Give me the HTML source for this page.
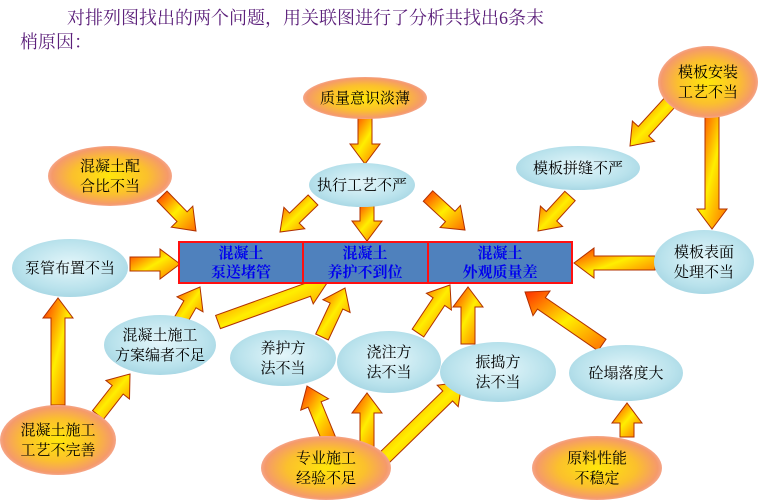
<!DOCTYPE html>
<html><head><meta charset="utf-8">
<style>
html,body{margin:0;padding:0;background:#fff;}
svg{display:block;font-family:"Liberation Serif","Noto Serif CJK SC",serif;}
</style></head>
<body>
<svg id="s" width="780" height="502" viewBox="0 0 780 502" xmlns="http://www.w3.org/2000/svg">
<defs>
<radialGradient id="blue" cx="50%" cy="45%" r="60%">
<stop offset="0" stop-color="#e4f6fa"/><stop offset="0.7" stop-color="#b9e2ec"/><stop offset="1" stop-color="#a3d4e2"/>
</radialGradient>
<radialGradient id="warm" cx="50%" cy="50%" r="55%">
<stop offset="0" stop-color="#ffe60a"/><stop offset="0.55" stop-color="#fbc02d"/><stop offset="0.85" stop-color="#f59a6a"/><stop offset="1" stop-color="#f6b8b8"/>
</radialGradient>
<linearGradient id="ag" x1="0" y1="0" x2="1" y2="1">
<stop offset="0" stop-color="#ff2a00"/><stop offset="0.5" stop-color="#ffee00"/><stop offset="1" stop-color="#ff6a00"/>
</linearGradient>
</defs>
<text x="67" y="24" font-size="18" fill="#5b1f7a">对排列图找出的两个问题，用关联图进行了分析共找出6条末</text>
<text x="20" y="48" font-size="18" fill="#5b1f7a">梢原因：</text>

<g id="arrows"></g>

<rect x="179" y="242" width="393" height="41" fill="#4f81bd" stroke="#ff1010" stroke-width="2"/>
<line x1="303" y1="242" x2="303" y2="283" stroke="#ff1010" stroke-width="2"/>
<line x1="428" y1="242" x2="428" y2="283" stroke="#ff1010" stroke-width="2"/>
<g font-size="15" fill="#0000ee" font-weight="bold" text-anchor="middle">
<text x="241" y="258">混凝土</text><text x="241" y="277">泵送堵管</text>
<text x="365" y="258">混凝土</text><text x="365" y="277">养护不到位</text>
<text x="500" y="258">混凝土</text><text x="500" y="277">外观质量差</text>
</g>

<g id="ells"></g>
</svg>
<script>
var NS="http://www.w3.org/2000/svg";
function arrow(x1,y1,x2,y2){
 var dx=x2-x1,dy=y2-y1,L=Math.hypot(dx,dy),ux=dx/L,uy=dy/L,px=-uy,py=ux;
 var w=7,hw=15,hl=20;
 var bx=x2-ux*hl,by=y2-uy*hl;
 var pts=[[x1+px*w,y1+py*w],[bx+px*w,by+py*w],[bx+px*hw,by+py*hw],[x2,y2],[bx-px*hw,by-py*hw],[bx-px*w,by-py*w],[x1-px*w,y1-py*w]];
 var p=document.createElementNS(NS,"polygon");
 p.setAttribute("points",pts.map(function(a){return a[0].toFixed(1)+","+a[1].toFixed(1)}).join(" "));
 p.setAttribute("fill","url(#ag)");p.setAttribute("stroke","#b03000");p.setAttribute("stroke-width","1");
 document.getElementById("arrows").appendChild(p);
}
[[365,118,365,164],[313,200,280,232],[367,206,367,241],[428,196,465,230],[162,196,196,231],
[130,264,180,264],[672,100,630,146],[712,115,712,229],[570,196,538,231],[655,263,574,263],
[178,325,200,287],[218,322,327,283],[322,337,345,288],[418,333,450,285],[468,344,468,287],
[602,345,525,292],[58,405,58,298],[98,415,130,374],[330,442,307,386],[367,450,367,393],
[382,460,462,382],[627,437,627,403]].forEach(function(a){arrow.apply(null,a)});
function ell(cx,cy,rx,ry,warm,lines){
 var g=document.getElementById("ells");
 var e=document.createElementNS(NS,"ellipse");
 e.setAttribute("cx",cx);e.setAttribute("cy",cy);e.setAttribute("rx",rx);e.setAttribute("ry",ry);
 e.setAttribute("fill",warm?"url(#warm)":"url(#blue)");g.appendChild(e);
 var n=lines.length,lh=20,y0=cy-(n-1)*lh/2+5;
 lines.forEach(function(t,i){var tx=document.createElementNS(NS,"text");
  tx.setAttribute("x",cx);tx.setAttribute("y",y0+i*lh);tx.setAttribute("font-size","15");
  tx.setAttribute("text-anchor","middle");tx.setAttribute("fill","#000");tx.textContent=t;g.appendChild(tx);});
}
ell(365,98,62,21,1,["质量意识淡薄"]);
ell(110,176,62,30,1,["混凝土配","合比不当"]);
ell(708,82,50,36,1,["模板安装","工艺不当"]);
ell(362,185,53,22,0,["执行工艺不严"]);
ell(578,168,62,22,0,["模板拼缝不严"]);
ell(70,268,58,29,0,["泵管布置不当"]);
ell(704,262,50,32,0,["模板表面","处理不当"]);
ell(160,345,56,30,0,["混凝土施工","方案编者不足"]);
ell(283,358,53,28,0,["养护方","法不当"]);
ell(389,362,52,31,0,["浇注方","法不当"]);
ell(498,372,58,30,0,["振捣方","法不当"]);
ell(626,373,57,28,0,["砼塌落度大"]);
ell(58,440,58,35,1,["混凝土施工","工艺不完善"]);
ell(326,468,65,32,1,["专业施工","经验不足"]);
ell(597,468,65,32,1,["原料性能","不稳定"]);
</script>
</body></html>
